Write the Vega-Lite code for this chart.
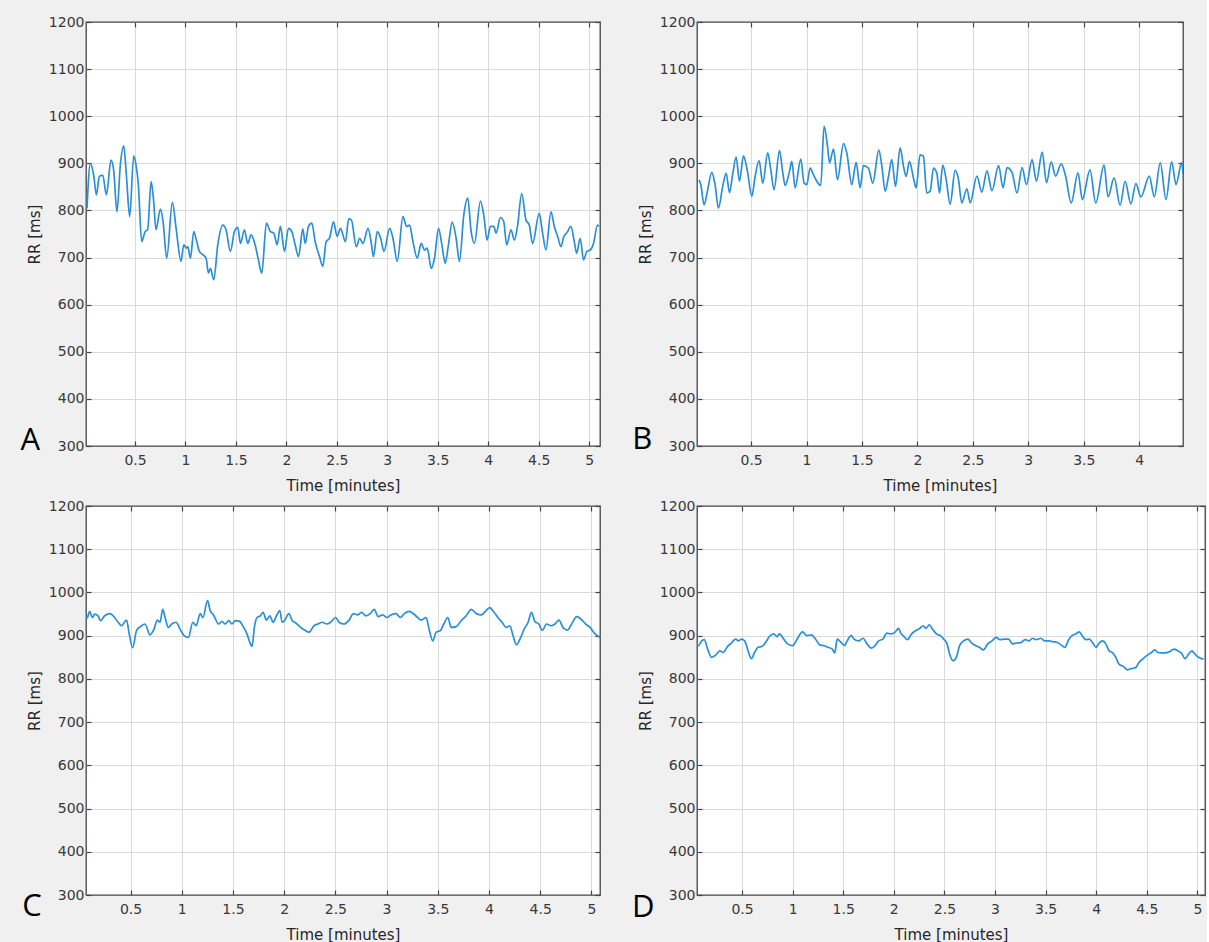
{
  "$schema": "https://vega.github.io/schema/vega-lite/v6.json",
  "background": "#f0f0f0",
  "padding": {"left": 19, "top": 14, "right": 0, "bottom": 0},
  "datasets": {
    "A": [{"t":0.024,"rr":805},{"t":0.057,"rr":900},{"t":0.09,"rr":875},{"t":0.117,"rr":833},{"t":0.146,"rr":872},{"t":0.18,"rr":875},{"t":0.216,"rr":833},{"t":0.262,"rr":907},{"t":0.288,"rr":886},{"t":0.321,"rr":797},{"t":0.354,"rr":896},{"t":0.388,"rr":937},{"t":0.414,"rr":875},{"t":0.447,"rr":787},{"t":0.487,"rr":916},{"t":0.51,"rr":896},{"t":0.533,"rr":854},{"t":0.566,"rr":734},{"t":0.6,"rr":755},{"t":0.625,"rr":759},{"t":0.659,"rr":861},{"t":0.682,"rr":826},{"t":0.708,"rr":759},{"t":0.751,"rr":803},{"t":0.778,"rr":776},{"t":0.814,"rr":699},{"t":0.87,"rr":817},{"t":0.907,"rr":762},{"t":0.956,"rr":692},{"t":0.983,"rr":727},{"t":1.009,"rr":720},{"t":1.022,"rr":723},{"t":1.049,"rr":699},{"t":1.082,"rr":755},{"t":1.108,"rr":737},{"t":1.138,"rr":713},{"t":1.171,"rr":706},{"t":1.204,"rr":699},{"t":1.227,"rr":667},{"t":1.247,"rr":677},{"t":1.28,"rr":653},{"t":1.32,"rr":727},{"t":1.369,"rr":769},{"t":1.402,"rr":759},{"t":1.445,"rr":713},{"t":1.485,"rr":755},{"t":1.518,"rr":764},{"t":1.545,"rr":730},{"t":1.584,"rr":759},{"t":1.617,"rr":730},{"t":1.65,"rr":748},{"t":1.69,"rr":727},{"t":1.723,"rr":695},{"t":1.756,"rr":667},{"t":1.802,"rr":773},{"t":1.842,"rr":755},{"t":1.875,"rr":752},{"t":1.908,"rr":727},{"t":1.941,"rr":766},{"t":1.981,"rr":713},{"t":2.021,"rr":762},{"t":2.054,"rr":755},{"t":2.087,"rr":727},{"t":2.12,"rr":702},{"t":2.163,"rr":761},{"t":2.186,"rr":730},{"t":2.219,"rr":766},{"t":2.252,"rr":773},{"t":2.285,"rr":734},{"t":2.328,"rr":702},{"t":2.361,"rr":681},{"t":2.394,"rr":734},{"t":2.427,"rr":741},{"t":2.467,"rr":776},{"t":2.503,"rr":745},{"t":2.536,"rr":762},{"t":2.585,"rr":734},{"t":2.618,"rr":782},{"t":2.644,"rr":780},{"t":2.693,"rr":723},{"t":2.726,"rr":741},{"t":2.759,"rr":730},{"t":2.809,"rr":762},{"t":2.842,"rr":730},{"t":2.862,"rr":702},{"t":2.901,"rr":755},{"t":2.934,"rr":741},{"t":2.967,"rr":713},{"t":3.023,"rr":762},{"t":3.056,"rr":741},{"t":3.099,"rr":692},{"t":3.155,"rr":787},{"t":3.191,"rr":766},{"t":3.221,"rr":769},{"t":3.254,"rr":734},{"t":3.297,"rr":699},{"t":3.336,"rr":730},{"t":3.369,"rr":716},{"t":3.396,"rr":720},{"t":3.435,"rr":677},{"t":3.468,"rr":699},{"t":3.508,"rr":762},{"t":3.541,"rr":727},{"t":3.574,"rr":688},{"t":3.606,"rr":727},{"t":3.643,"rr":775},{"t":3.682,"rr":741},{"t":3.715,"rr":692},{"t":3.758,"rr":790},{"t":3.797,"rr":826},{"t":3.831,"rr":755},{"t":3.864,"rr":730},{"t":3.923,"rr":820},{"t":3.956,"rr":790},{"t":3.989,"rr":737},{"t":4.022,"rr":766},{"t":4.055,"rr":766},{"t":4.078,"rr":752},{"t":4.121,"rr":785},{"t":4.154,"rr":776},{"t":4.183,"rr":727},{"t":4.226,"rr":759},{"t":4.259,"rr":737},{"t":4.292,"rr":769},{"t":4.332,"rr":836},{"t":4.374,"rr":780},{"t":4.407,"rr":769},{"t":4.44,"rr":730},{"t":4.506,"rr":794},{"t":4.539,"rr":752},{"t":4.572,"rr":716},{"t":4.622,"rr":797},{"t":4.655,"rr":766},{"t":4.688,"rr":745},{"t":4.721,"rr":723},{"t":4.747,"rr":743},{"t":4.787,"rr":755},{"t":4.82,"rr":766},{"t":4.853,"rr":734},{"t":4.876,"rr":709},{"t":4.912,"rr":741},{"t":4.945,"rr":695},{"t":4.978,"rr":713},{"t":5.011,"rr":716},{"t":5.044,"rr":730},{"t":5.083,"rr":769},{"t":5.098,"rr":766}],
    "B": [{"t":0.03,"rr":865},{"t":0.046,"rr":855},{"t":0.076,"rr":812},{"t":0.106,"rr":841},{"t":0.145,"rr":881},{"t":0.175,"rr":855},{"t":0.205,"rr":805},{"t":0.244,"rr":851},{"t":0.275,"rr":879},{"t":0.305,"rr":838},{"t":0.335,"rr":879},{"t":0.365,"rr":913},{"t":0.395,"rr":862},{"t":0.431,"rr":916},{"t":0.467,"rr":883},{"t":0.506,"rr":830},{"t":0.536,"rr":872},{"t":0.572,"rr":906},{"t":0.605,"rr":858},{"t":0.65,"rr":922},{"t":0.677,"rr":887},{"t":0.707,"rr":844},{"t":0.756,"rr":927},{"t":0.786,"rr":879},{"t":0.807,"rr":853},{"t":0.846,"rr":883},{"t":0.867,"rr":904},{"t":0.897,"rr":848},{"t":0.948,"rr":909},{"t":0.978,"rr":858},{"t":1.002,"rr":855},{"t":1.032,"rr":890},{"t":1.062,"rr":876},{"t":1.092,"rr":862},{"t":1.128,"rr":853},{"t":1.158,"rr":979},{"t":1.189,"rr":936},{"t":1.207,"rr":901},{"t":1.243,"rr":930},{"t":1.279,"rr":865},{"t":1.333,"rr":942},{"t":1.363,"rr":922},{"t":1.408,"rr":855},{"t":1.447,"rr":902},{"t":1.483,"rr":848},{"t":1.513,"rr":895},{"t":1.558,"rr":890},{"t":1.597,"rr":858},{"t":1.652,"rr":928},{"t":1.679,"rr":894},{"t":1.709,"rr":841},{"t":1.739,"rr":872},{"t":1.769,"rr":908},{"t":1.802,"rr":851},{"t":1.844,"rr":933},{"t":1.874,"rr":894},{"t":1.898,"rr":872},{"t":1.928,"rr":904},{"t":1.964,"rr":869},{"t":1.988,"rr":848},{"t":2.024,"rr":918},{"t":2.054,"rr":915},{"t":2.084,"rr":837},{"t":2.115,"rr":841},{"t":2.145,"rr":890},{"t":2.175,"rr":879},{"t":2.199,"rr":837},{"t":2.228,"rr":896},{"t":2.259,"rr":866},{"t":2.295,"rr":813},{"t":2.34,"rr":885},{"t":2.37,"rr":866},{"t":2.4,"rr":816},{"t":2.446,"rr":846},{"t":2.476,"rr":816},{"t":2.536,"rr":873},{"t":2.581,"rr":839},{"t":2.627,"rr":884},{"t":2.672,"rr":842},{"t":2.732,"rr":895},{"t":2.772,"rr":848},{"t":2.808,"rr":891},{"t":2.853,"rr":881},{"t":2.898,"rr":837},{"t":2.944,"rr":891},{"t":2.983,"rr":855},{"t":3.034,"rr":908},{"t":3.073,"rr":862},{"t":3.125,"rr":924},{"t":3.164,"rr":859},{"t":3.206,"rr":903},{"t":3.246,"rr":873},{"t":3.297,"rr":899},{"t":3.336,"rr":873},{"t":3.387,"rr":816},{"t":3.448,"rr":880},{"t":3.487,"rr":823},{"t":3.556,"rr":886},{"t":3.608,"rr":816},{"t":3.683,"rr":896},{"t":3.719,"rr":829},{"t":3.774,"rr":869},{"t":3.828,"rr":811},{"t":3.873,"rr":862},{"t":3.925,"rr":814},{"t":3.97,"rr":857},{"t":4.015,"rr":829},{"t":4.091,"rr":873},{"t":4.136,"rr":829},{"t":4.19,"rr":901},{"t":4.242,"rr":823},{"t":4.293,"rr":903},{"t":4.332,"rr":855},{"t":4.383,"rr":901},{"t":4.395,"rr":878}],
    "C": [{"t":0.02,"rr":961},{"t":0.052,"rr":951},{"t":0.075,"rr":941},{"t":0.101,"rr":956},{"t":0.127,"rr":942},{"t":0.15,"rr":950},{"t":0.183,"rr":946},{"t":0.206,"rr":935},{"t":0.248,"rr":946},{"t":0.297,"rr":951},{"t":0.33,"rr":946},{"t":0.379,"rr":931},{"t":0.412,"rr":923},{"t":0.461,"rr":936},{"t":0.487,"rr":904},{"t":0.52,"rr":872},{"t":0.559,"rr":912},{"t":0.598,"rr":921},{"t":0.641,"rr":927},{"t":0.69,"rr":902},{"t":0.729,"rr":915},{"t":0.761,"rr":936},{"t":0.788,"rr":931},{"t":0.814,"rr":961},{"t":0.837,"rr":942},{"t":0.869,"rr":919},{"t":0.902,"rr":927},{"t":0.944,"rr":931},{"t":0.984,"rr":915},{"t":1.023,"rr":900},{"t":1.065,"rr":896},{"t":1.108,"rr":931},{"t":1.141,"rr":923},{"t":1.18,"rr":951},{"t":1.206,"rr":942},{"t":1.252,"rr":981},{"t":1.278,"rr":958},{"t":1.31,"rr":948},{"t":1.36,"rr":927},{"t":1.392,"rr":933},{"t":1.425,"rr":927},{"t":1.458,"rr":935},{"t":1.49,"rr":927},{"t":1.523,"rr":935},{"t":1.565,"rr":933},{"t":1.605,"rr":919},{"t":1.637,"rr":904},{"t":1.67,"rr":881},{"t":1.686,"rr":875},{"t":1.709,"rr":919},{"t":1.735,"rr":942},{"t":1.768,"rr":946},{"t":1.794,"rr":954},{"t":1.827,"rr":936},{"t":1.86,"rr":946},{"t":1.892,"rr":931},{"t":1.925,"rr":946},{"t":1.958,"rr":958},{"t":1.98,"rr":931},{"t":2.003,"rr":935},{"t":2.046,"rr":951},{"t":2.078,"rr":935},{"t":2.121,"rr":928},{"t":2.16,"rr":919},{"t":2.199,"rr":913},{"t":2.242,"rr":908},{"t":2.291,"rr":923},{"t":2.33,"rr":927},{"t":2.373,"rr":931},{"t":2.415,"rr":927},{"t":2.454,"rr":931},{"t":2.503,"rr":942},{"t":2.536,"rr":931},{"t":2.585,"rr":927},{"t":2.634,"rr":936},{"t":2.676,"rr":951},{"t":2.716,"rr":948},{"t":2.755,"rr":954},{"t":2.797,"rr":946},{"t":2.84,"rr":951},{"t":2.879,"rr":961},{"t":2.918,"rr":944},{"t":2.961,"rr":948},{"t":3.003,"rr":942},{"t":3.042,"rr":948},{"t":3.092,"rr":951},{"t":3.134,"rr":942},{"t":3.173,"rr":951},{"t":3.222,"rr":956},{"t":3.265,"rr":950},{"t":3.304,"rr":942},{"t":3.337,"rr":936},{"t":3.386,"rr":942},{"t":3.418,"rr":912},{"t":3.451,"rr":888},{"t":3.484,"rr":908},{"t":3.526,"rr":912},{"t":3.559,"rr":927},{"t":3.598,"rr":942},{"t":3.631,"rr":919},{"t":3.68,"rr":921},{"t":3.729,"rr":935},{"t":3.778,"rr":946},{"t":3.827,"rr":961},{"t":3.876,"rr":951},{"t":3.925,"rr":948},{"t":3.964,"rr":956},{"t":4.007,"rr":965},{"t":4.049,"rr":954},{"t":4.088,"rr":942},{"t":4.127,"rr":931},{"t":4.17,"rr":919},{"t":4.203,"rr":923},{"t":4.235,"rr":900},{"t":4.268,"rr":879},{"t":4.31,"rr":896},{"t":4.343,"rr":915},{"t":4.382,"rr":931},{"t":4.415,"rr":954},{"t":4.448,"rr":933},{"t":4.487,"rr":927},{"t":4.52,"rr":912},{"t":4.562,"rr":927},{"t":4.605,"rr":923},{"t":4.644,"rr":927},{"t":4.683,"rr":936},{"t":4.725,"rr":918},{"t":4.768,"rr":913},{"t":4.807,"rr":927},{"t":4.856,"rr":944},{"t":4.899,"rr":938},{"t":4.944,"rr":927},{"t":4.987,"rr":919},{"t":5.036,"rr":904},{"t":5.085,"rr":896}],
    "D": [{"t":0.025,"rr":880},{"t":0.036,"rr":884},{"t":0.069,"rr":877},{"t":0.101,"rr":888},{"t":0.127,"rr":891},{"t":0.16,"rr":869},{"t":0.199,"rr":850},{"t":0.239,"rr":855},{"t":0.281,"rr":865},{"t":0.314,"rr":861},{"t":0.356,"rr":875},{"t":0.395,"rr":883},{"t":0.435,"rr":892},{"t":0.467,"rr":888},{"t":0.493,"rr":892},{"t":0.526,"rr":888},{"t":0.565,"rr":861},{"t":0.592,"rr":847},{"t":0.624,"rr":861},{"t":0.657,"rr":873},{"t":0.696,"rr":875},{"t":0.729,"rr":883},{"t":0.771,"rr":898},{"t":0.814,"rr":904},{"t":0.846,"rr":898},{"t":0.869,"rr":904},{"t":0.912,"rr":892},{"t":0.951,"rr":881},{"t":1.0,"rr":877},{"t":1.042,"rr":891},{"t":1.098,"rr":909},{"t":1.141,"rr":900},{"t":1.186,"rr":902},{"t":1.229,"rr":891},{"t":1.271,"rr":878},{"t":1.31,"rr":877},{"t":1.35,"rr":873},{"t":1.392,"rr":869},{"t":1.415,"rr":860},{"t":1.441,"rr":892},{"t":1.48,"rr":884},{"t":1.513,"rr":877},{"t":1.539,"rr":888},{"t":1.578,"rr":900},{"t":1.611,"rr":891},{"t":1.654,"rr":888},{"t":1.696,"rr":894},{"t":1.735,"rr":881},{"t":1.775,"rr":871},{"t":1.807,"rr":875},{"t":1.85,"rr":888},{"t":1.892,"rr":892},{"t":1.931,"rr":906},{"t":1.971,"rr":904},{"t":2.013,"rr":908},{"t":2.046,"rr":917},{"t":2.069,"rr":906},{"t":2.101,"rr":898},{"t":2.134,"rr":891},{"t":2.176,"rr":904},{"t":2.219,"rr":912},{"t":2.258,"rr":917},{"t":2.291,"rr":923},{"t":2.317,"rr":917},{"t":2.35,"rr":925},{"t":2.382,"rr":915},{"t":2.422,"rr":904},{"t":2.461,"rr":900},{"t":2.493,"rr":892},{"t":2.526,"rr":881},{"t":2.552,"rr":857},{"t":2.585,"rr":842},{"t":2.618,"rr":850},{"t":2.65,"rr":877},{"t":2.69,"rr":888},{"t":2.732,"rr":892},{"t":2.765,"rr":884},{"t":2.807,"rr":877},{"t":2.846,"rr":873},{"t":2.886,"rr":867},{"t":2.928,"rr":881},{"t":2.971,"rr":888},{"t":3.01,"rr":896},{"t":3.049,"rr":891},{"t":3.092,"rr":892},{"t":3.134,"rr":892},{"t":3.173,"rr":881},{"t":3.212,"rr":883},{"t":3.255,"rr":884},{"t":3.297,"rr":891},{"t":3.337,"rr":888},{"t":3.369,"rr":894},{"t":3.408,"rr":891},{"t":3.451,"rr":894},{"t":3.493,"rr":888},{"t":3.533,"rr":888},{"t":3.572,"rr":886},{"t":3.614,"rr":884},{"t":3.657,"rr":878},{"t":3.69,"rr":873},{"t":3.729,"rr":891},{"t":3.761,"rr":900},{"t":3.8,"rr":904},{"t":3.833,"rr":909},{"t":3.866,"rr":898},{"t":3.899,"rr":891},{"t":3.931,"rr":892},{"t":3.964,"rr":884},{"t":3.997,"rr":873},{"t":4.03,"rr":883},{"t":4.062,"rr":888},{"t":4.095,"rr":881},{"t":4.127,"rr":865},{"t":4.16,"rr":861},{"t":4.193,"rr":850},{"t":4.225,"rr":834},{"t":4.268,"rr":829},{"t":4.31,"rr":821},{"t":4.35,"rr":824},{"t":4.389,"rr":826},{"t":4.422,"rr":838},{"t":4.464,"rr":847},{"t":4.507,"rr":855},{"t":4.546,"rr":861},{"t":4.578,"rr":867},{"t":4.611,"rr":861},{"t":4.644,"rr":860},{"t":4.683,"rr":860},{"t":4.725,"rr":863},{"t":4.768,"rr":869},{"t":4.807,"rr":865},{"t":4.84,"rr":860},{"t":4.879,"rr":847},{"t":4.912,"rr":857},{"t":4.944,"rr":865},{"t":4.977,"rr":857},{"t":5.01,"rr":850},{"t":5.052,"rr":846},{"t":5.06,"rr":845}]
  },
  "config": {
    "view": {"stroke": "#444444", "strokeWidth": 1.3, "fill": "white"},
    "axis": {
      "domain": false,
      "grid": true, "gridWidth": 1,
      "gridColor": {"condition": {"test": "datum.value == 300 || datum.value == 1200", "value": "transparent"}, "value": "#dadada"},
      "ticks": true, "tickColor": "#444444", "tickSize": -5, "tickWidth": 1.2,
      "labelFont": "DejaVu Sans", "labelFontSize": 14, "labelColor": "#383838",
      "titleFont": "DejaVu Sans", "titleFontSize": 15, "titleFontWeight": "normal", "titleColor": "#262626"
    },
    "axisX": {"labelPadding": 12, "titlePadding": 11, "format": "~g"},
    "axisY": {"labelPadding": 7, "titlePadding": 6, "format": "d"},
    "text": {"font": "Open Sans", "fontSize": 31, "color": "#000000", "align": "left", "baseline": "alphabetic"}
  },
  "columns": 2,
  "spacing": {"row": 60, "column": 97},
  "bounds": "flush",
  "concat": [
    {
      "width": 514, "height": 424,
      "resolve": {"axis": {"x": "independent", "y": "independent"}},
      "layer": [
        {
          "data": {"name": "A"},
          "mark": {"type": "line", "color": "#2b8fd6", "strokeWidth": 1.7, "interpolate": "monotone", "clip": true},
          "encoding": {
            "x": {"field": "t", "type": "quantitative", "scale": {"domain": [0.014, 5.108], "nice": false, "zero": false}, "axis": {"values": [0.5,1,1.5,2,2.5,3,3.5,4,4.5,5], "title": "Time [minutes]"}},
            "y": {"field": "rr", "type": "quantitative", "scale": {"domain": [300, 1200], "nice": false, "zero": false}, "axis": {"values": [300,400,500,600,700,800,900,1000,1100,1200], "title": "RR [ms]"}}
          }
        },
        {
          "data": {"name": "A"},
          "mark": {"type": "point", "opacity": 0},
          "encoding": {
            "x": {"field": "t", "type": "quantitative", "axis": {"orient": "top", "values": [0.5,1,1.5,2,2.5,3,3.5,4,4.5,5], "labels": false, "grid": false, "title": null}},
            "y": {"field": "rr", "type": "quantitative", "axis": {"orient": "right", "values": [300,400,500,600,700,800,900,1000,1100,1200], "labels": false, "grid": false, "title": null}}
          }
        },
        {
          "data": {"values": [{"label": "A"}]},
          "mark": {"type": "text"},
          "encoding": {
            "text": {"field": "label"},
            "x": {"datum": -0.635, "type": "quantitative", "axis": null},
            "y": {"datum": 291.5, "type": "quantitative", "axis": null}
          }
        }
      ]
    },
    {
      "width": 486, "height": 424,
      "resolve": {"axis": {"x": "independent", "y": "independent"}},
      "layer": [
        {
          "data": {"name": "B"},
          "mark": {"type": "line", "color": "#2b8fd6", "strokeWidth": 1.7, "interpolate": "monotone", "clip": true},
          "encoding": {
            "x": {"field": "t", "type": "quantitative", "scale": {"domain": [0.012, 4.395], "nice": false, "zero": false}, "axis": {"values": [0.5,1,1.5,2,2.5,3,3.5,4], "title": "Time [minutes]"}},
            "y": {"field": "rr", "type": "quantitative", "scale": {"domain": [300, 1200], "nice": false, "zero": false}, "axis": {"values": [300,400,500,600,700,800,900,1000,1100,1200], "title": "RR [ms]"}}
          }
        },
        {
          "data": {"name": "B"},
          "mark": {"type": "point", "opacity": 0},
          "encoding": {
            "x": {"field": "t", "type": "quantitative", "axis": {"orient": "top", "values": [0.5,1,1.5,2,2.5,3,3.5,4], "labels": false, "grid": false, "title": null}},
            "y": {"field": "rr", "type": "quantitative", "axis": {"orient": "right", "values": [300,400,500,600,700,800,900,1000,1100,1200], "labels": false, "grid": false, "title": null}}
          }
        },
        {
          "data": {"values": [{"label": "B"}]},
          "mark": {"type": "text"},
          "encoding": {
            "text": {"field": "label"},
            "x": {"datum": -0.573, "type": "quantitative", "axis": null},
            "y": {"datum": 294, "type": "quantitative", "axis": null}
          }
        }
      ]
    },
    {
      "width": 514, "height": 389,
      "resolve": {"axis": {"x": "independent", "y": "independent"}},
      "layer": [
        {
          "data": {"name": "C"},
          "mark": {"type": "line", "color": "#2b8fd6", "strokeWidth": 1.7, "interpolate": "monotone", "clip": true},
          "encoding": {
            "x": {"field": "t", "type": "quantitative", "scale": {"domain": [0.065, 5.084], "nice": false, "zero": false}, "axis": {"values": [0.5,1,1.5,2,2.5,3,3.5,4,4.5,5], "title": "Time [minutes]"}},
            "y": {"field": "rr", "type": "quantitative", "scale": {"domain": [300, 1200], "nice": false, "zero": false}, "axis": {"values": [300,400,500,600,700,800,900,1000,1100,1200], "title": "RR [ms]"}}
          }
        },
        {
          "data": {"name": "C"},
          "mark": {"type": "point", "opacity": 0},
          "encoding": {
            "x": {"field": "t", "type": "quantitative", "axis": {"orient": "top", "values": [0.5,1,1.5,2,2.5,3,3.5,4,4.5,5], "labels": false, "grid": false, "title": null}},
            "y": {"field": "rr", "type": "quantitative", "axis": {"orient": "right", "values": [300,400,500,600,700,800,900,1000,1100,1200], "labels": false, "grid": false, "title": null}}
          }
        },
        {
          "data": {"values": [{"label": "C"}]},
          "mark": {"type": "text"},
          "encoding": {
            "text": {"field": "label"},
            "x": {"datum": -0.557, "type": "quantitative", "axis": null},
            "y": {"datum": 252, "type": "quantitative", "axis": null}
          }
        }
      ]
    },
    {
      "width": 508, "height": 389,
      "resolve": {"axis": {"x": "independent", "y": "independent"}},
      "layer": [
        {
          "data": {"name": "D"},
          "mark": {"type": "line", "color": "#2b8fd6", "strokeWidth": 1.7, "interpolate": "monotone", "clip": true},
          "encoding": {
            "x": {"field": "t", "type": "quantitative", "scale": {"domain": [0.055, 5.075], "nice": false, "zero": false}, "axis": {"values": [0.5,1,1.5,2,2.5,3,3.5,4,4.5,5], "title": "Time [minutes]"}},
            "y": {"field": "rr", "type": "quantitative", "scale": {"domain": [300, 1200], "nice": false, "zero": false}, "axis": {"values": [300,400,500,600,700,800,900,1000,1100,1200], "title": "RR [ms]"}}
          }
        },
        {
          "data": {"name": "D"},
          "mark": {"type": "point", "opacity": 0},
          "encoding": {
            "x": {"field": "t", "type": "quantitative", "axis": {"orient": "top", "values": [0.5,1,1.5,2,2.5,3,3.5,4,4.5,5], "labels": false, "grid": false, "title": null}},
            "y": {"field": "rr", "type": "quantitative", "axis": {"orient": "right", "values": [300,400,500,600,700,800,900,1000,1100,1200], "labels": false, "grid": false, "title": null}}
          }
        },
        {
          "data": {"values": [{"label": "D"}]},
          "mark": {"type": "text"},
          "encoding": {
            "text": {"field": "label"},
            "x": {"datum": -0.587, "type": "quantitative", "axis": null},
            "y": {"datum": 249, "type": "quantitative", "axis": null}
          }
        }
      ]
    }
  ]
}
